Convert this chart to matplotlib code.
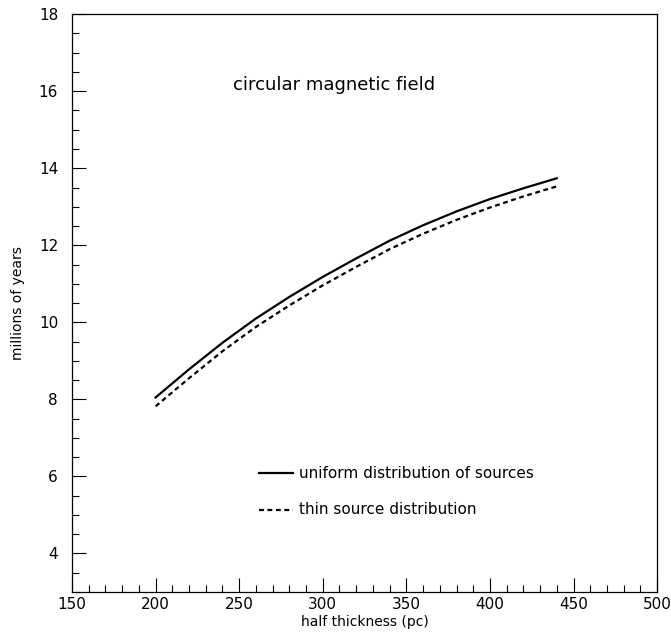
import matplotlib
matplotlib.use("Agg")
import matplotlib.pyplot as plt
from matplotlib.ticker import MultipleLocator

# half thickness (pc) and time (millions of years)
thickness = [200, 220, 240, 260, 280, 300, 320, 340, 360, 380, 400, 420, 440]
uniform = [8.05, 8.78, 9.47, 10.10, 10.66, 11.18, 11.66, 12.12, 12.52, 12.88, 13.20, 13.48, 13.74]
thin = [7.82, 8.55, 9.25, 9.88, 10.44, 10.96, 11.44, 11.90, 12.30, 12.66, 12.98, 13.27, 13.53]

fig = plt.figure(figsize=(6.71, 6.35), dpi=100)
ax = fig.add_axes([0.1073, 0.0677, 0.872, 0.910])

ax.plot(thickness, uniform, color="black", lw=1.6)
ax.plot(thickness, thin, color="black", lw=1.6, ls=(0, (2.2, 1.6)))

ax.set_xlim(150, 500)
ax.set_ylim(3, 18)
ax.xaxis.set_major_locator(MultipleLocator(50))
ax.xaxis.set_minor_locator(MultipleLocator(10))
ax.yaxis.set_major_locator(MultipleLocator(2))
ax.yaxis.set_minor_locator(MultipleLocator(0.5))
ax.tick_params(which="both", direction="in", top=False, right=False, labelsize=11)
ax.tick_params(which="major", length=10, width=0.8)
ax.tick_params(which="minor", length=5, width=0.8)
ax.tick_params(axis="y", pad=10)
for s in ax.spines.values():
    s.set_linewidth(0.9)

ax.set_xlabel("half thickness (pc)", fontsize=10, labelpad=2)
ax.set_ylabel("millions of years", fontsize=10, labelpad=10)

ax.text(307, 16.15, "circular magnetic field", fontsize=13, ha="center", va="center")

# legend drawn by hand like the original
ax.plot([262, 282], [6.08, 6.08], color="black", lw=1.6)
ax.plot([262, 282], [5.14, 5.14], color="black", lw=1.6, ls=(0, (2.2, 1.6)))
ax.text(286, 6.08, "uniform distribution of sources", fontsize=11, va="center")
ax.text(286, 5.14, "thin source distribution", fontsize=11, va="center")

fig.savefig("out.png", dpi=100)
